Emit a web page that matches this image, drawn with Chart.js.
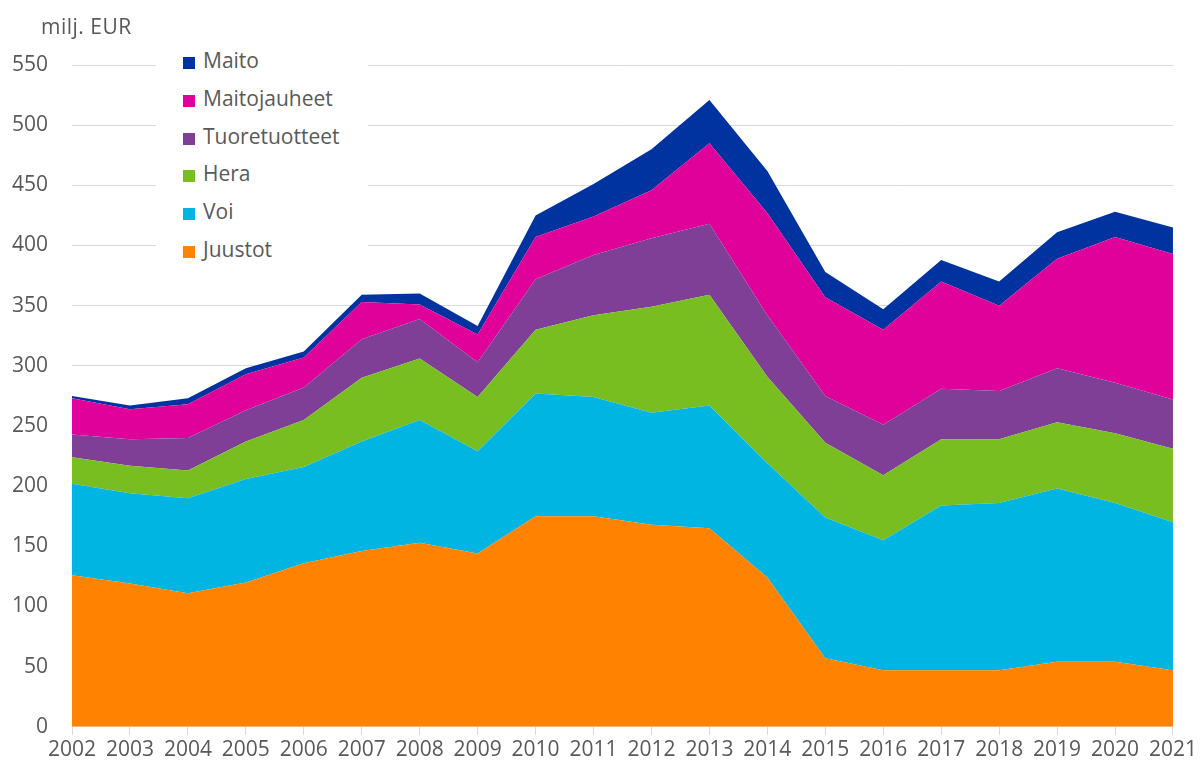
<!DOCTYPE html>
<html>
<head>
<meta charset="utf-8">
<script src="https://cdn.jsdelivr.net/npm/chart.js@4"></script>
<style>
  body { margin: 0; background: #fff; }
  #wrap { position: relative; width: 1200px; height: 771px; font-family: "Open Sans", sans-serif; }
  #unit { position: absolute; left: 41px; top: 12px; font-size: 21px; color: #595959; letter-spacing: 0.5px; }
  #legend { position: absolute; left: 156px; top: 42px; width: 212px; height: 222px; background: #fff; }
  #legend div { height: 37.8px; line-height: 37.8px; font-size: 21px; color: #595959; white-space: nowrap; }
  #legend span { display: inline-block; width: 12px; height: 12px; margin: 0 8px 0 27px; vertical-align: -1px; }
</style>
</head>
<body>
<div id="wrap">
  <canvas id="myChart" width="1200" height="771"></canvas>
  <div id="unit">milj. EUR</div>
  <div id="legend"></div>
</div>
<script>
let years = ["2002", "2003", "2004", "2005", "2006", "2007", "2008", "2009", "2010", "2011",
	"2012", "2013", "2014", "2015", "2016", "2017", "2018", "2019", "2020", "2021"];

let juustot = [126, 119, 111, 120, 136, 146, 153, 144, 175, 175, 168, 165, 124, 57, 47, 47, 47, 54, 54, 47];
let voi = [76, 75, 79, 86, 80, 91, 102, 85, 102, 99, 93, 102, 95, 117, 108, 137, 139, 144, 132, 123];
let hera = [22, 23, 23, 31, 39, 53, 51, 45, 53, 68, 88, 92, 72, 62, 54, 55, 53, 55, 58, 61];
let tuoretuotteet = [19, 22, 27, 26, 27, 32, 33, 29, 42, 50, 57, 59, 51, 39, 42, 42, 40, 45, 42, 41];
let maitojauheet = [30, 25, 28, 30, 25, 31, 12, 23, 35, 32, 40, 67, 85, 82, 79, 89, 71, 91, 121, 121];
let maito = [2, 3, 5, 5, 5, 6, 9, 7, 18, 27, 34, 36, 35, 21, 17, 18, 20, 22, 21, 22];

let series = [
	{ label: "Juustot", data: juustot, color: "#ff8200" },
	{ label: "Voi", data: voi, color: "#00b5e2" },
	{ label: "Hera", data: hera, color: "#78be20" },
	{ label: "Tuoretuotteet", data: tuoretuotteet, color: "#803f97" },
	{ label: "Maitojauheet", data: maitojauheet, color: "#e0009a" },
	{ label: "Maito", data: maito, color: "#0033a0" }
];

let gray = "#595959";
let font = { family: "'Open Sans', sans-serif", size: 21 };

var ctx = document.getElementById("myChart");
var chart = new Chart(ctx, {
	type: "line",
	data: {
		labels: years,
		datasets: series.map((s, i) => ({
			label: s.label,
			data: s.data,
			backgroundColor: s.color,
			borderColor: s.color,
			borderWidth: 0,
			pointRadius: 0,
			tension: 0,
			fill: i === 0 ? "origin" : "-1"
		}))
	},
	options: {
		responsive: false,
		animation: false,
		layout: { padding: { top: 65, right: 22, bottom: 5, left: 0 } },
		plugins: {
			legend: { display: false },
			tooltip: { enabled: false }
		},
		scales: {
			x: {
				offset: false,
				grid: { display: true, drawOnChartArea: false, drawTicks: true, tickLength: 8, color: "#d9d9d9" },
				border: { color: "#d9d9d9" },
				ticks: { color: gray, font: font, maxRotation: 0, autoSkip: false, padding: 3 }
			},
			y: {
				stacked: true,
				min: 0,
				max: 550,
				afterFit: (scale) => { scale.width = 72; },
				grid: { color: "#d9d9d9", drawTicks: false },
				border: { display: false },
				ticks: { stepSize: 50, color: gray, font: font, padding: 24 }
			}
		}
	}
});

// legend, top series first
let legend = document.getElementById("legend");
series.slice().reverse().forEach((s) => {
	let row = document.createElement("div");
	let box = document.createElement("span");
	box.style.background = s.color;
	row.appendChild(box);
	row.appendChild(document.createTextNode(s.label));
	legend.appendChild(row);
});
</script>
</body>
</html>
